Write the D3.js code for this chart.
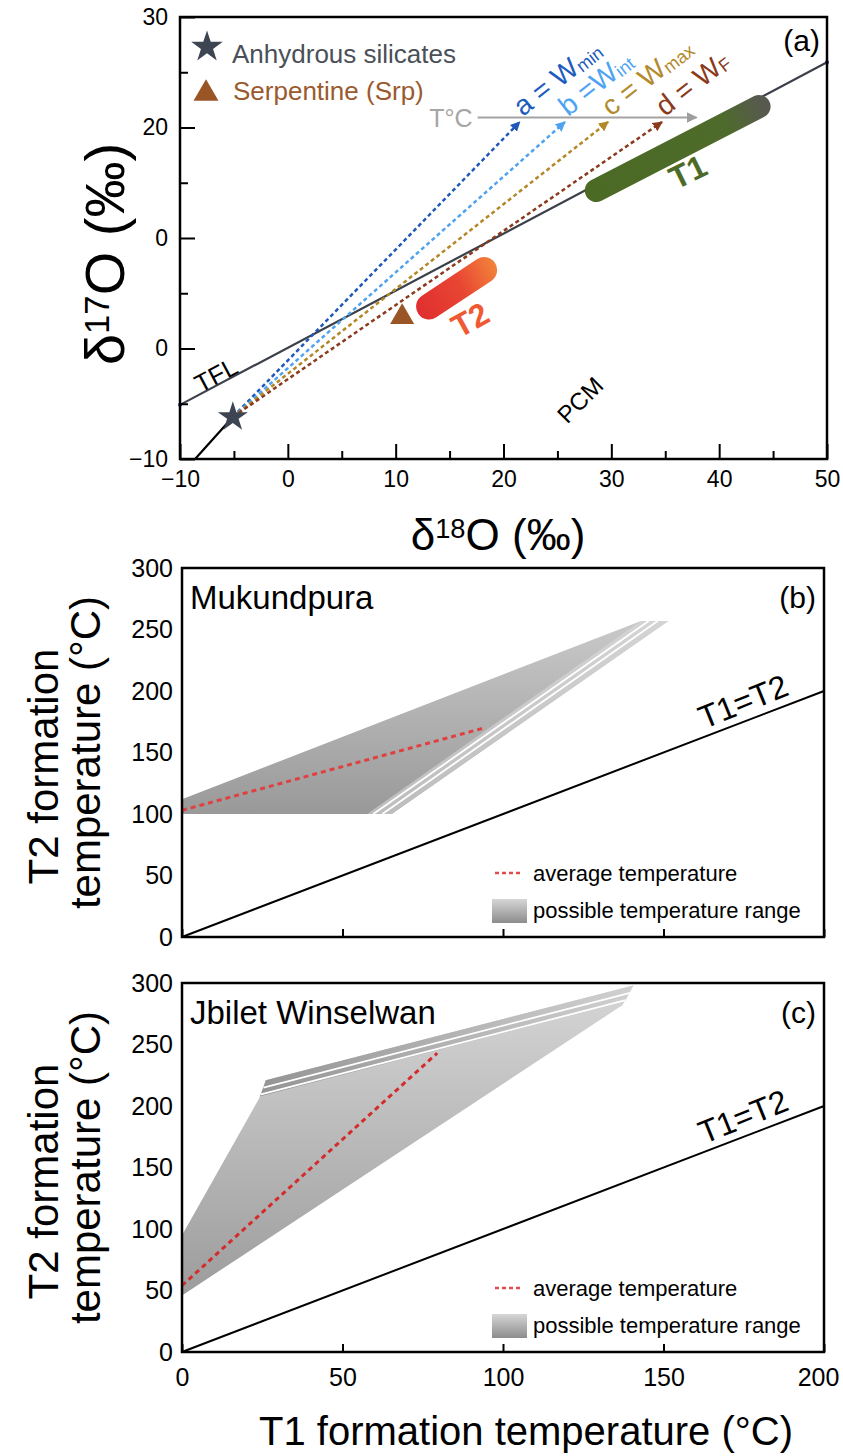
<!DOCTYPE html>
<html>
<head>
<meta charset="utf-8">
<script src="https://cdn.jsdelivr.net/npm/d3@7"></script>
<style>
  body { margin: 0; background: #fff; }
  svg text { font-family: "Liberation Sans", Arial, Helvetica, sans-serif; }
</style>
</head>
<body>
<svg id="fig"></svg>
<script>
const W = 843, H = 1456;

// ---- panel (a): triple oxygen isotope plot ----
const xTicksA = [-10, 0, 10, 20, 30, 40, 50];
const xMinorA = [-5, 5, 15, 25, 35, 45];
const yTicksA = [-10, 0, 10, 20, 30];
const yTickLabelsA = ["\u221210", "0", "0", "20", "30"];
const yMinorA = [-5, 5, 15, 25];
const tfl = [[-10, -5.1], [50, 25.9]];
const pcm = [[-8.6, -10], [-5.1, -6.2]];
const anhydrous = [-5.1, -6.2];
const serpentine = [10.6, 2.85];
const mixNames = ["a = W", "b =W", "c = W", "d = W"];
const mixSubs = ["min", "int", "max", "F"];
const mixTipX = [21.5, 25.7, 29.7, 34.7];
const mixTipY = 20.5;
const tempArrow = [[17.6, 20.9], [37.9, 20.9]];
const t1Bar = [[28.6, 14.3], [43.7, 21.9]];
const t2Bar = [[13.1, 3.8], [18.2, 7.1]];

// ---- panels (b), (c): T2 vs T1 ----
const xTicksT = [0, 50, 100, 150, 200];
const yTicksT = [0, 50, 100, 150, 200, 250, 300];
const oneToOne = [[0, 0], [200, 200]];
const mukRange = [[0, 100], [65.3, 100], [151.5, 257], [143, 257], [0, 112]];
const mukBands = [[57.7, 100], [65.3, 100], [151.5, 257], [143, 257]];
const mukGaps = [[[59.6, 100], [145.4, 257]], [[62.4, 100], [148.2, 257]]];
const mukAvg = [[0, 103], [94.6, 170.3]];
const jbwRange = [[0, 46], [137.2, 282], [140.6, 298], [26.1, 221], [24, 206], [0, 95]];
const jbwBands = [[24.4, 208], [26.1, 221], [140.6, 298], [138, 285]];
const jbwGaps = [[[24.6, 209.5], [138.2, 286]], [[25.4, 215], [139.6, 292]]];
const jbwAvg = [[0, 54], [79.5, 243]];

const svg = d3.select("#fig").attr("width", W).attr("height", H);
svg.append("rect").attr("width", W).attr("height", H).attr("fill", "#fff");
const defs = svg.append("defs");

function styleAxis(g, size) {
  g.attr("font-family", null).attr("font-size", size);
  g.select(".domain").remove();
  g.selectAll(".tick line").attr("stroke-width", 2);
  g.selectAll(".tick text").attr("fill", "#000");
}

function gradient(id, x1, y1, x2, y2, stops) {
  const lg = defs.append("linearGradient").attr("id", id)
    .attr("gradientUnits", "userSpaceOnUse")
    .attr("x1", x1).attr("y1", y1).attr("x2", x2).attr("y2", y2);
  stops.forEach(s => lg.append("stop").attr("offset", s[0]).attr("stop-color", s[1]));
}

function arrowMarker(id, color, size) {
  defs.append("marker").attr("id", id)
    .attr("viewBox", "0 0 10 10").attr("refX", 9).attr("refY", 5)
    .attr("markerWidth", size).attr("markerHeight", size)
    .attr("orient", "auto")
    .append("path").attr("d", "M0,0L10,5L0,10z").attr("fill", color);
}

// isotope label like δ18O (‰)
function isoText(t, mass, fs) {
  t.append("tspan").text("\u03b4");
  t.append("tspan").attr("font-size", fs * 0.62).attr("dy", -fs * 0.27).text(mass);
  t.append("tspan").attr("dy", fs * 0.27).text("O (\u2030)");
}

// ================= panel (a) =================
const xA = d3.scaleLinear([-10, 50], [180, 827]);
const yA = d3.scaleLinear([-10, 30], [459, 17]);
const gA = svg.append("g");
const line = d3.line();

gA.append("path").attr("d", line(tfl.map(p => [xA(p[0]), yA(p[1])])))
  .attr("stroke", "#3b4049").attr("stroke-width", 2.2).attr("fill", "none");
tfl.forEach(p => gA.append("circle").attr("cx", xA(p[0])).attr("cy", yA(p[1]))
  .attr("r", 2).attr("fill", "#2a2f80"));
gA.append("path").attr("d", line(pcm.map(p => [xA(p[0]), yA(p[1])])))
  .attr("stroke", "#000").attr("stroke-width", 2.2).attr("fill", "none");

const mixLine = ["#1f58b8", "#4fa3ee", "#b38826", "#8b3a1c"];
const mixText = ["#1d5bbd", "#4ea4f2", "#b38a2c", "#8a3a1a"];
mixLine.forEach((c, i) => arrowMarker("arr" + i, c, 4));
arrowMarker("arrT", "#9e9e9e", 5.5);

gA.append("line")
  .attr("x1", xA(tempArrow[0][0])).attr("y1", yA(tempArrow[0][1]))
  .attr("x2", xA(tempArrow[1][0])).attr("y2", yA(tempArrow[1][1]))
  .attr("stroke", "#a3a3a3").attr("stroke-width", 2).attr("marker-end", "url(#arrT)");
gA.append("text").attr("x", xA(tempArrow[0][0]) - 5).attr("y", yA(tempArrow[0][1]) + 9)
  .attr("text-anchor", "end").attr("font-size", 25).attr("fill", "#a6a6a6").text("T\u00b0C");

mixTipX.forEach((tx, i) => {
  gA.append("line")
    .attr("x1", xA(anhydrous[0])).attr("y1", yA(anhydrous[1]))
    .attr("x2", xA(tx)).attr("y2", yA(mixTipY))
    .attr("stroke", mixLine[i]).attr("stroke-width", 2.5)
    .attr("stroke-dasharray", "4,3").attr("marker-end", `url(#arr${i})`);
  const t = gA.append("text")
    .attr("transform", `translate(${xA(tx) + 3},${yA(mixTipY) - 5}) rotate(-38)`)
    .attr("font-size", 28).attr("fill", mixText[i]);
  t.append("tspan").text(mixNames[i]);
  t.append("tspan").attr("font-size", 18).attr("dy", 2).text(mixSubs[i]);
});

// T1 and T2 bars
const t1p = t1Bar.map(p => [xA(p[0]), yA(p[1])]);
gradient("gT1", t1p[0][0], t1p[0][1], t1p[1][0] + 10, t1p[1][1] - 5,
  [[0, "#4b6a24"], [0.74, "#4e6b2b"], [0.96, "#57594f"]]);
gA.append("path").attr("d", line(t1p)).attr("stroke", "url(#gT1)")
  .attr("stroke-width", 23).attr("stroke-linecap", "round").attr("fill", "none");
const t2p = t2Bar.map(p => [xA(p[0]), yA(p[1])]);
gradient("gT2", t2p[0][0] - 10, t2p[0][1], t2p[1][0] + 12, t2p[1][1],
  [[0, "#e0302f"], [0.55, "#e84633"], [1, "#f2803a"]]);
gA.append("path").attr("d", line(t2p)).attr("stroke", "url(#gT2)")
  .attr("stroke-width", 26).attr("stroke-linecap", "round").attr("fill", "none");

gA.append("text").attr("transform", `translate(${xA(37.1)},${yA(16.0)}) rotate(-26)`)
  .attr("text-anchor", "middle").attr("dy", "0.35em").attr("font-size", 32)
  .attr("font-weight", "bold").attr("fill", "#4d6b27").text("T1");
gA.append("text").attr("transform", `translate(${xA(16.9)},${yA(2.6)}) rotate(-29)`)
  .attr("text-anchor", "middle").attr("dy", "0.35em").attr("font-size", 32)
  .attr("font-weight", "bold").attr("fill", "#f05a32").text("T2");

gA.append("path").attr("d", d3.symbol(d3.symbolTriangle, 250)())
  .attr("transform", `translate(${xA(serpentine[0])},${yA(serpentine[1])})`).attr("fill", "#9a5527");
gA.append("path").attr("d", d3.symbol(d3.symbolStar, 280)())
  .attr("transform", `translate(${xA(anhydrous[0])},${yA(anhydrous[1])})`).attr("fill", "#3d4552");

gA.append("text").attr("transform", `translate(${xA(-6.66)},${yA(-2.4)}) rotate(-28)`)
  .attr("text-anchor", "middle").attr("dy", "0.35em").attr("font-size", 25).text("TFL");
gA.append("text").attr("transform", `translate(${xA(27.1)},${yA(-4.66)}) rotate(-45)`)
  .attr("text-anchor", "middle").attr("dy", "0.35em").attr("font-size", 24).text("PCM");

// legend
gA.append("path").attr("d", d3.symbol(d3.symbolStar, 310)())
  .attr("transform", "translate(207,47)").attr("fill", "#3d4552");
gA.append("text").attr("x", 232).attr("y", 63).attr("font-size", 26).attr("fill", "#4a4f58")
  .text("Anhydrous silicates");
gA.append("path").attr("d", d3.symbol(d3.symbolTriangle, 270)())
  .attr("transform", "translate(206,93.6)").attr("fill", "#9a5527");
gA.append("text").attr("x", 233).attr("y", 100).attr("font-size", 26).attr("fill", "#9b5a2e")
  .text("Serpentine (Srp)");
gA.append("text").attr("x", 820).attr("y", 51).attr("text-anchor", "end")
  .attr("font-size", 30).text("(a)");

// axes (a)
const bA = yA.range()[0], lA = xA.range()[0];
gA.append("g").attr("transform", `translate(0,${bA})`)
  .call(d3.axisBottom(xA).tickValues(xTicksA).tickSize(-15).tickPadding(12)).call(styleAxis, 23);
gA.append("g").attr("transform", `translate(0,${bA})`)
  .call(d3.axisBottom(xA).tickValues(xMinorA).tickSize(-8).tickFormat("")).call(styleAxis, 23);
gA.append("g").attr("transform", `translate(${lA},0)`)
  .call(d3.axisLeft(yA).tickValues(yTicksA).tickSize(-15).tickPadding(12)
    .tickFormat((d, i) => yTickLabelsA[i])).call(styleAxis, 23);
gA.append("g").attr("transform", `translate(${lA},0)`)
  .call(d3.axisLeft(yA).tickValues(yMinorA).tickSize(-8).tickFormat("")).call(styleAxis, 23);

gA.append("rect").attr("x", xA.range()[0]).attr("y", yA.range()[1])
  .attr("width", xA.range()[1] - xA.range()[0]).attr("height", yA.range()[0] - yA.range()[1])
  .attr("fill", "none").attr("stroke", "#000").attr("stroke-width", 2.5);

isoText(gA.append("text").attr("transform", `translate(124,${(yA.range()[0] + yA.range()[1]) / 2 + 16}) rotate(-90)`)
  .attr("text-anchor", "middle").attr("font-size", 56), "17", 56);
isoText(gA.append("text").attr("x", 498).attr("y", 550)
  .attr("text-anchor", "middle").attr("font-size", 44), "18", 44);

// ================= panels (b) and (c) =================
const xT = d3.scaleLinear([0, 200], [182, 824]);

function tempPanel(opts) {
  const y = d3.scaleLinear([0, 300], [opts.bottom, opts.top]);
  const g = svg.append("g");
  const pts = arr => arr.map(p => [xT(p[0]), y(p[1])]);
  const poly = arr => "M" + pts(arr).join("L") + "Z";

  gradient(opts.id + "main", 0, y(opts.gradTop), 0, y(opts.gradBottom), opts.mainStops);
  g.append("path").attr("d", poly(opts.range)).attr("fill", `url(#${opts.id}main)`);
  const bx = opts.bandGrad;
  gradient(opts.id + "band", xT(bx[0][0]), y(bx[0][1]), xT(bx[1][0]), y(bx[1][1]), opts.bandStops);
  g.append("path").attr("d", poly(opts.bands)).attr("fill", `url(#${opts.id}band)`);
  opts.gaps.forEach(s => g.append("path").attr("d", line(pts(s)))
    .attr("stroke", "#fff").attr("stroke-width", 1.8).attr("fill", "none"));

  g.append("path").attr("d", line(pts(opts.avg))).attr("stroke", opts.red)
    .attr("stroke-width", 3).attr("stroke-dasharray", "5,4").attr("fill", "none");

  g.append("path").attr("d", line(pts(oneToOne))).attr("stroke", "#000")
    .attr("stroke-width", 2).attr("fill", "none");
  const ang = Math.atan2(y(200) - y(0), xT(200) - xT(0)) * 180 / Math.PI;
  g.append("text").attr("transform", `translate(${xT(177)},${y(177)}) rotate(${ang - 1})`)
    .attr("text-anchor", "middle").attr("dy", -8).attr("font-size", 32).text("T1=T2");

  // legend
  const lb = opts.bottom;
  g.append("line").attr("x1", 495).attr("x2", 523).attr("y1", lb - 64).attr("y2", lb - 64)
    .attr("stroke", "#e04b4b").attr("stroke-width", 2.5).attr("stroke-dasharray", "4,3");
  g.append("text").attr("x", 533).attr("y", lb - 56).attr("font-size", 22).text("average temperature");
  gradient(opts.id + "sw", 0, lb - 38, 0, lb - 14, [[0, "#d6d6d6"], [1, "#8c8c8c"]]);
  g.append("rect").attr("x", 492).attr("y", lb - 38).attr("width", 35).attr("height", 24)
    .attr("fill", `url(#${opts.id}sw)`);
  g.append("text").attr("x", 533).attr("y", lb - 19).attr("font-size", 22).text("possible temperature range");

  g.append("text").attr("x", 190).attr("y", opts.top + 41).attr("font-size", 33).text(opts.name);
  g.append("text").attr("x", 816).attr("y", opts.top + 40).attr("text-anchor", "end")
    .attr("font-size", 30).text(opts.tag);

  const axB = d3.axisBottom(xT).tickValues(xTicksT).tickSize(-8).tickPadding(16);
  if (!opts.xLabels) axB.tickFormat("");
  const gx = g.append("g").attr("transform", `translate(0,${opts.bottom})`).call(axB).call(styleAxis, 25);
  // keep the last label inside the page, as in the original
  gx.selectAll(".tick text").filter(d => d === 200).attr("dx", -6);
  g.append("g").attr("transform", `translate(${xT.range()[0]},0)`)
    .call(d3.axisLeft(y).tickValues(yTicksT).tickSize(0).tickPadding(9)).call(styleAxis, 25);

  g.append("rect").attr("x", xT.range()[0]).attr("y", opts.top)
    .attr("width", xT.range()[1] - xT.range()[0]).attr("height", opts.bottom - opts.top)
    .attr("fill", "none").attr("stroke", "#000").attr("stroke-width", 2.5);

  const cy = (opts.top + opts.bottom) / 2;
  g.append("text").attr("transform", `translate(58,${cy + 14}) rotate(-90)`)
    .attr("text-anchor", "middle").attr("font-size", 42).text("T2 formation");
  g.append("text").attr("transform", `translate(100,${cy}) rotate(-90)`)
    .attr("text-anchor", "middle").attr("font-size", 42).text("temperature (\u00b0C)");
}

tempPanel({
  id: "b", top: 568, bottom: 937, name: "Mukundpura", tag: "(b)",
  range: mukRange, bands: mukBands, gaps: mukGaps, avg: mukAvg,
  gradTop: 257, gradBottom: 100,
  mainStops: [[0, "#c9c9c9"], [1, "#999999"]],
  bandGrad: [[100, 257], [100, 100]],
  bandStops: [[0, "#d4d4d4"], [1, "#bdbdbd"]],
  red: "#e04040", xLabels: false
});
tempPanel({
  id: "c", top: 983, bottom: 1352, name: "Jbilet Winselwan", tag: "(c)",
  range: jbwRange, bands: jbwBands, gaps: jbwGaps, avg: jbwAvg,
  gradTop: 298, gradBottom: 46,
  mainStops: [[0, "#d6d6d6"], [1, "#9c9c9c"]],
  bandGrad: [[24, 214], [140, 290]],
  bandStops: [[0, "#949494"], [1, "#d0d0d0"]],
  red: "#d42c2c", xLabels: true
});

svg.append("text").attr("x", 526).attr("y", 1445).attr("text-anchor", "middle")
  .attr("font-size", 40).text("T1 formation temperature (\u00b0C)");
</script>
</body>
</html>
